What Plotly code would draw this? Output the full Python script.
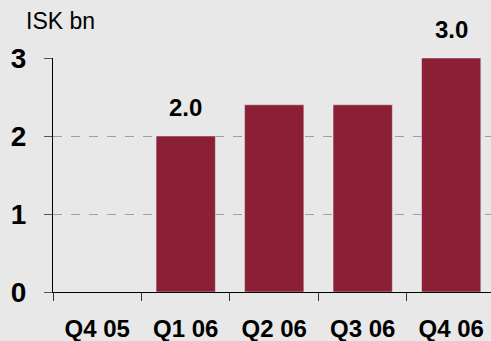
import plotly.graph_objects as go

categories = ["Q4 05", "Q1 06", "Q2 06", "Q3 06", "Q4 06"]
values = [0, 2.0, 2.4, 2.4, 3.0]
labels = ["", "2.0", "", "", "3.0"]
y_ticks = [0, 1, 2, 3]

fig = go.Figure(go.Bar(
    x=categories, y=values,
    marker_color="#8B1F35", width=0.67, cliponaxis=False,
))
fig.update_layout(
    width=491, height=341,
    margin=dict(l=53, r=0, t=58, b=49),
    paper_bgcolor="#E8E8E8", plot_bgcolor="#E8E8E8",
    showlegend=False,
    font=dict(family="Liberation Sans", color="black"),
)
fig.update_xaxes(
    range=[-0.5, 4.45], showline=True, linecolor="black", linewidth=1,
    ticks="outside", tickson="boundaries", ticklen=8, tickcolor="#333333",
    tickfont=dict(size=24, weight="bold"), ticklabelstandoff=15,
    showgrid=False, automargin=False,
)
fig.update_yaxes(
    range=[0, 3], tickvals=y_ticks, showline=True, linecolor="black", linewidth=1,
    ticks="outside", ticklen=8, tickcolor="#555555",
    tickfont=dict(size=28, weight="bold"), ticklabelstandoff=12,
    showgrid=True, gridcolor="#A0A0A0", griddash="dash", gridwidth=1,
    zeroline=False, automargin=False,
)
for c, v, t in zip(categories, values, labels):
    if t:
        fig.add_annotation(x=c, y=v, text=t, showarrow=False, yanchor="bottom",
                           yshift=13, font=dict(size=24, weight="bold", color="black"))
fig.add_annotation(text="ISK bn", xref="paper", yref="paper", x=-0.066, y=1.0,
                   yshift=37, xanchor="left", yanchor="middle", showarrow=False,
                   font=dict(size=23, color="black"))
fig.write_html("out.html", config={"displayModeBar": False},
               post_script="document.body.style.margin='0';document.body.style.overflow='hidden';")
